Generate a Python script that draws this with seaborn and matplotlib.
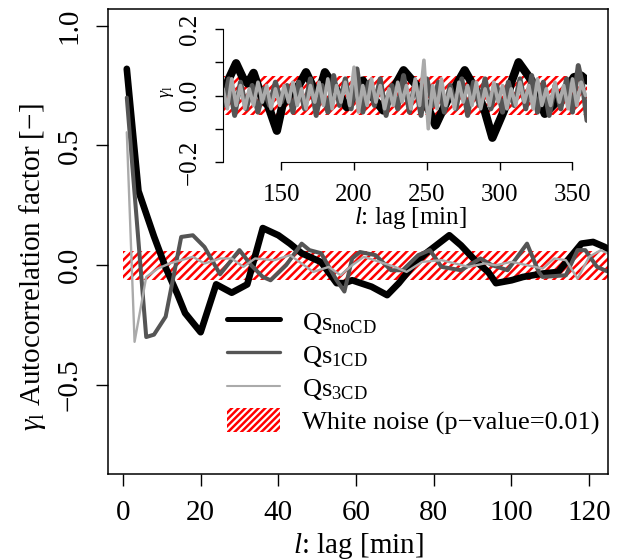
import matplotlib
matplotlib.use("Agg")
import matplotlib.pyplot as plt
import seaborn as sns
from matplotlib.lines import Line2D
from matplotlib.patches import Patch

# main panel, lag 1..125 min
lag_nocd = [1, 4, 8, 11, 14, 16, 20, 24, 28, 32, 36, 40, 43, 46, 51, 55, 57, 59, 64, 68,
            71, 75, 78, 84, 87, 91, 94, 96, 100, 103, 108, 112, 118, 121, 124, 126]
acf_nocd = [0.82, 0.31, 0.12, -0.01, -0.12, -0.20, -0.28, -0.08, -0.115, -0.08, 0.155, 0.125,
            0.09, 0.05, 0.013, -0.075, -0.075, -0.063, -0.09, -0.125, -0.075, 0.005, 0.05,
            0.125, 0.083, 0.014, -0.028, -0.075, -0.063, -0.049, -0.035, -0.028, 0.09, 0.097,
            0.076, 0.05]

lag_1cd = [1, 6, 8, 11, 15, 18, 21, 25, 30, 33, 36, 38, 42, 46, 48, 51, 55, 57, 59, 61,
           65, 69, 72, 76, 79, 82, 87, 92, 95, 99, 104, 107, 108, 114, 117, 119, 122, 125]
acf_1cd = [0.70, -0.30, -0.29, -0.215, 0.118, 0.125, 0.076, -0.038, 0.063, 0.0, -0.049,
           -0.063, 0.0, 0.09, 0.063, 0.05, -0.063, -0.11, 0.028, 0.055, 0.042, -0.021, -0.021,
           0.042, 0.063, -0.007, -0.021, 0.028, 0.0, -0.021, 0.09, -0.028, -0.049, -0.042,
           0.063, 0.063, -0.007, -0.028]

lag_3cd = [1, 3, 6, 9, 12, 18, 21, 25, 28, 31, 34, 39, 43, 49, 53, 56, 59, 62, 70, 73,
           77, 82, 89, 93, 96, 100, 104, 108, 111, 114, 117, 120, 123, 126]
acf_3cd = [0.555, -0.32, -0.049, -0.014, 0.007, 0.035, 0.007, 0.028, 0.028, -0.007, 0.028,
           0.021, 0.042, -0.028, -0.007, -0.042, 0.0, 0.035, -0.007, -0.028, 0.014, 0.021,
           -0.007, 0.007, 0.0, 0.014, 0.0, -0.014, 0.028, 0.021, -0.056, 0.035, 0.063, 0.04]

# inset, lag 110..360 min
lag_nocd_in = [110, 114, 119, 124, 127, 131, 137, 141, 147, 151, 157, 162, 167, 173, 176,
               180, 186, 195, 200, 206, 212, 220, 227, 234, 244, 250, 256, 264, 270, 276,
               285, 290, 295, 303, 308, 313, 322, 331, 340, 346, 351, 356, 360]
acf_nocd_in = [0.0, 0.05, 0.097, 0.05, 0.036, 0.068, -0.01, -0.03, -0.106, -0.025, 0.006,
               0.03, 0.07, 0.015, 0.01, 0.07, 0.03, -0.035, 0.0, 0.045, 0.0, -0.045, 0.02,
               0.076, 0.025, -0.03, -0.09, -0.015, 0.03, 0.076, 0.006, -0.05, -0.127, -0.045,
               0.04, 0.1, 0.045, -0.055, -0.015, 0.02, 0.055, 0.06, 0.045]

lag_1cd_in = [110, 114, 118, 122, 126, 130, 134, 138, 142, 146, 150, 154, 158, 162, 166,
              170, 174, 178, 182, 186, 190, 194, 198, 202, 206, 210, 214, 218, 222, 226,
              230, 234, 238, 242, 246, 250, 254, 258, 262, 266, 270, 274, 278, 282, 286,
              290, 294, 298, 302, 306, 310, 314, 318, 322, 326, 330, 334, 338, 342, 346,
              350, 354, 357, 360]
acf_1cd_in = [-0.03, 0.05, -0.06, 0.04, -0.04, 0.03, -0.05, 0.02, -0.03, 0.04, -0.02, 0.03,
              -0.05, 0.04, -0.04, 0.05, -0.06, 0.03, -0.05, 0.06, -0.03, 0.05, -0.04, 0.08,
              -0.05, 0.04, -0.03, 0.05, -0.06, 0.03, -0.04, 0.06, -0.05, 0.04, -0.06, 0.05,
              -0.03, 0.04, -0.05, 0.03, -0.04, 0.05, -0.06, 0.04, -0.03, 0.05, -0.04, 0.03,
              -0.05, 0.04, -0.03, 0.05, -0.04, 0.06, -0.05, 0.04, -0.06, 0.03, -0.04, 0.05,
              -0.05, 0.09, 0.03, -0.075]

lag_3cd_in = [110, 113, 116, 119, 122, 125, 128, 131, 134, 137, 140, 143, 146, 149, 152,
              155, 158, 161, 164, 167, 170, 173, 176, 179, 182, 185, 188, 191, 194, 197,
              200, 203, 206, 209, 212, 215, 218, 221, 224, 227, 230, 233, 236, 239, 242,
              245, 248, 251, 254, 257, 260, 263, 266, 269, 272, 275, 278, 281, 284, 287,
              290, 293, 296, 299, 302, 305, 308, 311, 314, 317, 320, 323, 326, 329, 332,
              335, 338, 341, 344, 347, 350, 353, 356, 359]
acf_3cd_in = [0.02, -0.04, 0.05, -0.03, 0.03, -0.04, 0.02, -0.03, 0.04, -0.02, 0.03, -0.04,
              0.02, -0.03, 0.03, -0.02, 0.04, -0.03, 0.02, -0.04, 0.03, -0.02, 0.04, -0.03,
              0.05, -0.04, 0.03, -0.02, 0.04, -0.03, 0.085, -0.05, 0.03, -0.03, 0.05, -0.02,
              0.03, -0.04, 0.02, -0.03, 0.04, -0.02, 0.03, -0.04, 0.05, -0.03, 0.106, -0.10,
              0.03, -0.04, 0.05, -0.03, 0.02, -0.04, 0.04, -0.02, 0.03, -0.03, 0.04, -0.04,
              0.02, -0.03, 0.04, -0.02, 0.03, -0.04, 0.02, -0.03, 0.04, -0.02, 0.03, -0.04,
              0.05, -0.03, 0.02, -0.03, 0.04, -0.02, 0.03, -0.04, 0.05, -0.03, 0.04, 0.0]

# white noise band (p-value = 0.01)
wn_lim = 0.06
series_labels = [r"Qs$_{\mathrm{noCD}}$", r"Qs$_{\mathrm{1CD}}$", r"Qs$_{\mathrm{3CD}}$",
                 "White noise (p\u2212value=0.01)"]
colors = ["black", "#555555", "#aaaaaa"]

sns.set_style("ticks")
plt.rcParams['font.family'] = ['Liberation Serif', 'DejaVu Serif']
plt.rcParams['mathtext.fontset'] = 'custom'
plt.rcParams['mathtext.rm'] = 'Liberation Serif'
plt.rcParams['mathtext.it'] = 'Liberation Serif:italic'
plt.rcParams['hatch.linewidth'] = 1.8
plt.rcParams['axes.edgecolor'] = 'black'
plt.rcParams['xtick.color'] = 'black'
plt.rcParams['ytick.color'] = 'black'
plt.rcParams['text.color'] = 'black'
plt.rcParams['axes.labelcolor'] = 'black'

fig = plt.figure(figsize=(6.22, 5.6), dpi=100)
ax = fig.add_axes([108.3 / 622, (560 - 474) / 560, 499.4 / 622, 465.5 / 560])

ax.fill_between([0, 130], -wn_lim, wn_lim, facecolor='none', edgecolor='red',
                hatch='////', linewidth=0)
main = [(lag_nocd, acf_nocd, 4.8), (lag_1cd, acf_1cd, 2.9), (lag_3cd, acf_3cd, 1.7)]
for (x, y, lw), c in zip(main, colors):
    sns.lineplot(x=x, y=y, ax=ax, color=c, lw=lw, estimator=None, sort=False,
                 solid_joinstyle='round', solid_capstyle='round')

ax.set_xlim(-3.76, 124.76)
ax.set_ylim(-0.872, 1.072)
ax.set_xticks([0, 20, 40, 60, 80, 100, 120])
ax.set_yticks([-0.5, 0.0, 0.5, 1.0])
ax.set_yticklabels(["\u22120.5", "0.0", "0.5", "1.0"])
ax.tick_params(axis='both', labelsize=21, length=8.6, width=1.0, pad=10)
ax.tick_params(axis='y', labelrotation=90)
for t in ax.get_yticklabels():
    t.set_va('center')
for s in ax.spines.values():
    s.set_linewidth(1.1)

ax.set_xlabel(r"$l$: lag [min]", fontsize=21)
ax.xaxis.set_label_coords(0.5, -0.122)
ax.set_ylabel(r"$\gamma_{\mathrm{l}}$ Autocorrelation factor [" + "\u2212]", fontsize=21)
ax.yaxis.set_label_coords(-0.12, 0.445)

handles = [Line2D([], [], color=colors[0], lw=3.6),
           Line2D([], [], color=colors[1], lw=2.4),
           Line2D([], [], color=colors[2], lw=1.5),
           Patch(facecolor='none', edgecolor='red', hatch='/////', linewidth=0)]
ax.legend(handles, series_labels, loc='upper left', bbox_to_anchor=(0.238, 0.355),
          frameon=False, fontsize=19, handlelength=2.0, handletextpad=0.85,
          labelspacing=0.24, borderpad=0, borderaxespad=0, handleheight=1.0)

# inset with long lags
axin = fig.add_axes([223 / 622, (560 - 162) / 560, 364 / 622, 133 / 560])
axin.set_facecolor('none')
axin.fill_between([110, 360], -wn_lim, wn_lim, facecolor='none', edgecolor='red',
                  hatch='////', linewidth=0)
inset = [(lag_nocd_in, acf_nocd_in, 6.0), (lag_1cd_in, acf_1cd_in, 3.6),
         (lag_3cd_in, acf_3cd_in, 2.6)]
for (x, y, lw), c in zip(inset, colors):
    sns.lineplot(x=x, y=y, ax=axin, color=c, lw=lw, estimator=None, sort=False,
                 solid_joinstyle='round', solid_capstyle='round')
axin.set_xlim(110, 360)
axin.set_ylim(-0.2, 0.2)
axin.spines['top'].set_visible(False)
axin.spines['right'].set_visible(False)
axin.spines['bottom'].set_bounds(150, 350)
axin.spines['left'].set_bounds(-0.2, 0.2)
axin.set_xticks([150, 200, 250, 300, 350])
axin.set_yticks([-0.2, -0.1, 0.0, 0.1, 0.2])
axin.set_yticklabels(["\u22120.2", "", "0.0", "", "0.2"])
axin.tick_params(axis='both', labelsize=18, length=6, width=1.0, pad=10)
axin.tick_params(axis='y', labelrotation=90)
for t in axin.get_yticklabels():
    t.set_va('center')
axin.set_xlabel(r"$l$: lag [min]", fontsize=18)
axin.xaxis.set_label_coords(0.516, -0.32)
axin.set_ylabel(r"$\gamma_{\mathrm{l}}$", fontsize=13)
axin.yaxis.set_label_coords(-0.13, 0.53)

fig.savefig("out.png", dpi=100)
